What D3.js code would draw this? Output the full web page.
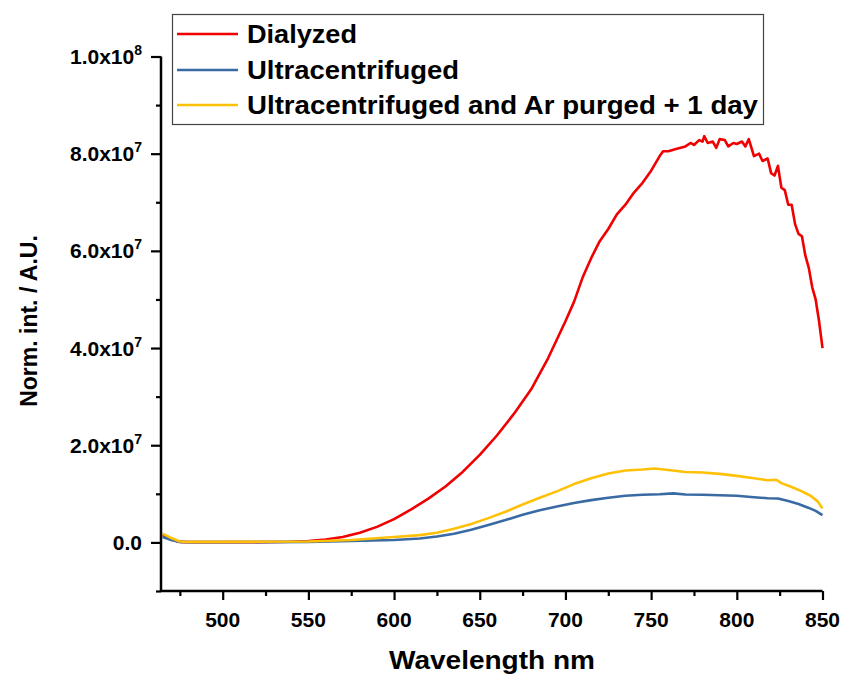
<!DOCTYPE html>
<html>
<head>
<meta charset="utf-8">
<script src="https://cdn.jsdelivr.net/npm/d3@7"></script>
<style>
  html, body { margin: 0; padding: 0; background: #fff; }
  svg { display: block; font-family: "Liberation Sans", Arial, sans-serif; font-weight: bold; }
</style>
</head>
<body>
<svg id="chart" width="846" height="675"></svg>
<script>
// ---- data ----
const seriesNames = ["Dialyzed", "Ultracentrifuged", "Ultracentrifuged and Ar purged + 1 day"];
const seriesColors = ["#f00000", "#3a6aa3", "#ffc107"];
const legendTextWidths = [110, 212, 511];

const dialyzedWl = [465,470,475,480,490,500,510,520,530,540,550,560,570,580,590,600,610,620,630,640,650,660,670,680,690,700,705,710,715,720,725,730,735,740,745,750,755,757,760,765,770,773,775,778,780,781,783,786,788,790,793,795,798,800,803,805,807,810,813,815,818,820,822,824,826,828,830,832,834,836,838,840,842,844,846,848,850];
const dialyzedVal = [1.5e6,0.6e6,0.1e6,0.05e6,0.05e6,0.05e6,0.05e6,0.06e6,0.08e6,0.15e6,0.3e6,0.6e6,1.1e6,2.0e6,3.2e6,4.8e6,6.8e6,9.0e6,1.15e7,1.45e7,1.8e7,2.2e7,2.65e7,3.15e7,3.8e7,4.55e7,4.95e7,5.45e7,5.85e7,6.2e7,6.45e7,6.75e7,6.95e7,7.2e7,7.4e7,7.65e7,7.95e7,8.05e7,8.05e7,8.1e7,8.15e7,8.22e7,8.18e7,8.28e7,8.25e7,8.36e7,8.22e7,8.25e7,8.12e7,8.3e7,8.28e7,8.15e7,8.22e7,8.2e7,8.25e7,8.15e7,8.3e7,7.95e7,8.0e7,7.85e7,7.9e7,7.6e7,7.55e7,7.75e7,7.3e7,7.25e7,6.95e7,6.95e7,6.55e7,6.35e7,6.3e7,5.9e7,5.65e7,5.25e7,5.0e7,4.55e7,4.0e7];

const ultraWl = [465,470,475,480,500,550,600,615,625,635,645,655,665,675,685,695,705,715,725,735,745,755,763,770,780,790,800,810,818,824,830,836,842,846,850];
const ultraVal = [1.1e6,0.5e6,0.1e6,0.05e6,0.05e6,0.1e6,0.5e6,0.8e6,1.2e6,1.8e6,2.6e6,3.6e6,4.6e6,5.7e6,6.6e6,7.4e6,8.1e6,8.7e6,9.2e6,9.6e6,9.8e6,9.9e6,1.01e7,9.85e6,9.8e6,9.7e6,9.6e6,9.3e6,9.1e6,9.05e6,8.5e6,7.9e6,7.1e6,6.5e6,5.6e6];

const purgedWl = [465,470,475,480,500,550,575,600,615,625,635,645,655,665,675,685,695,705,715,725,735,745,752,760,770,780,790,800,810,818,823,826,832,838,843,847,850];
const purgedVal = [1.8e6,0.9e6,0.2e6,0.1e6,0.1e6,0.2e6,0.5e6,1.1e6,1.5e6,2.0e6,2.8e6,3.8e6,5.0e6,6.3e6,7.8e6,9.2e6,1.05e7,1.2e7,1.32e7,1.42e7,1.48e7,1.5e7,1.52e7,1.49e7,1.45e7,1.44e7,1.41e7,1.37e7,1.32e7,1.28e7,1.29e7,1.22e7,1.14e7,1.05e7,0.96e7,0.85e7,0.7e7];

const xMajorTicks = [500,550,600,650,700,750,800,850];
const xMinorTicks = [475,525,575,625,675,725,775,825];
const yMajorTicks = [0, 2e7, 4e7, 6e7, 8e7, 1e8];
const yTickMantissa = ["0.0","2.0x10","4.0x10","6.0x10","8.0x10","1.0x10"];
const yTickExponent = ["","7","7","7","7","8"];
const yMinorTicks = [-1e7, 1e7, 3e7, 5e7, 7e7, 9e7];

const xTitle = "Wavelength nm";
const yTitle = "Norm. int. / A.U.";

// ---- layout ----
const svg = d3.select("#chart");
const x = d3.scaleLinear().domain([464, 850]).range([161, 822.5]);
const y = d3.scaleLinear().domain([-1e7, 1e8]).range([591, 56.5]);

const series = [
  { name: seriesNames[0], color: seriesColors[0], w: legendTextWidths[0], data: dialyzedWl.map((w, i) => [w, dialyzedVal[i]]) },
  { name: seriesNames[1], color: seriesColors[1], w: legendTextWidths[1], data: ultraWl.map((w, i) => [w, ultraVal[i]]) },
  { name: seriesNames[2], color: seriesColors[2], w: legendTextWidths[2], data: purgedWl.map((w, i) => [w, purgedVal[i]]) }
];

const line = d3.line().x(d => x(d[0])).y(d => y(d[1]));

// curves
svg.append("g").selectAll("path").data(series).join("path")
  .attr("d", d => line(d.data))
  .attr("fill", "none")
  .attr("stroke", d => d.color)
  .attr("stroke-width", 2.6)
  .attr("stroke-linejoin", "round");

// x axis
const gx = svg.append("g").attr("transform", `translate(0,${y(-1e7)})`);
gx.call(d3.axisBottom(x).tickValues(xMajorTicks).tickSize(9).tickSizeOuter(0).tickFormat(""));
gx.append("g").call(d3.axisBottom(x).tickValues(xMinorTicks).tickSize(5).tickFormat(""))
  .select(".domain").remove();
gx.selectAll(".domain").attr("stroke", "#000").attr("stroke-width", 2.5).attr("d", `M${x(464)},0H${x(850)}`);
gx.selectAll(".tick line").attr("stroke", "#000").attr("stroke-width", 2.2);
gx.selectAll(".xlab").data(xMajorTicks).join("text")
  .attr("class", "xlab")
  .attr("x", d => x(d)).attr("y", 36)
  .attr("text-anchor", "middle")
  .attr("font-size", 21).attr("fill", "#000")
  .text(d => d);

// y axis
const gy = svg.append("g").attr("transform", `translate(${x(464)},0)`);
gy.call(d3.axisLeft(y).tickValues(yMajorTicks).tickSize(10).tickSizeOuter(0).tickFormat(""));
gy.append("g").call(d3.axisLeft(y).tickValues(yMinorTicks).tickSize(5).tickFormat(""))
  .select(".domain").remove();
gy.selectAll(".domain").attr("stroke", "#000").attr("stroke-width", 2.5).attr("d", `M0,${y(-1e7)}V${y(1e8)}`);
gy.selectAll(".tick line").attr("stroke", "#000").attr("stroke-width", 2.2);
const ylab = gy.selectAll(".ylab").data(yMajorTicks).join("text")
  .attr("class", "ylab")
  .attr("x", -19).attr("y", d => y(d) + 7.5)
  .attr("text-anchor", "end")
  .attr("font-size", 21).attr("fill", "#000");
ylab.append("tspan").text((d, i) => yTickMantissa[i]);
ylab.append("tspan").attr("font-size", 14).attr("dy", -9).text((d, i) => yTickExponent[i]);

// axis titles
svg.append("text")
  .attr("x", 492).attr("y", 669)
  .attr("text-anchor", "middle")
  .attr("font-size", 25).attr("fill", "#000")
  .attr("textLength", 206).attr("lengthAdjust", "spacingAndGlyphs")
  .text(xTitle);
svg.append("text")
  .attr("transform", "translate(37,321) rotate(-90)")
  .attr("text-anchor", "middle")
  .attr("font-size", 23).attr("fill", "#000")
  .text(yTitle);

// legend
const lg = svg.append("g");
lg.append("rect").attr("x", 172.5).attr("y", 14.5).attr("width", 591).attr("height", 110)
  .attr("fill", "#fff").attr("stroke", "#444").attr("stroke-width", 1.2);
const rowsY = [34, 70, 105];
const items = lg.selectAll(".item").data(series).join("g").attr("class", "item")
  .attr("transform", (d, i) => `translate(0,${rowsY[i]})`);
items.append("line").attr("x1", 177).attr("x2", 238).attr("y1", 0).attr("y2", 0)
  .attr("stroke", d => d.color).attr("stroke-width", 2.6);
items.append("text").attr("x", 247).attr("y", 9)
  .attr("font-size", 25.5).attr("fill", "#000")
  .attr("textLength", d => d.w).attr("lengthAdjust", "spacingAndGlyphs")
  .text(d => d.name);
</script>
</body>
</html>
